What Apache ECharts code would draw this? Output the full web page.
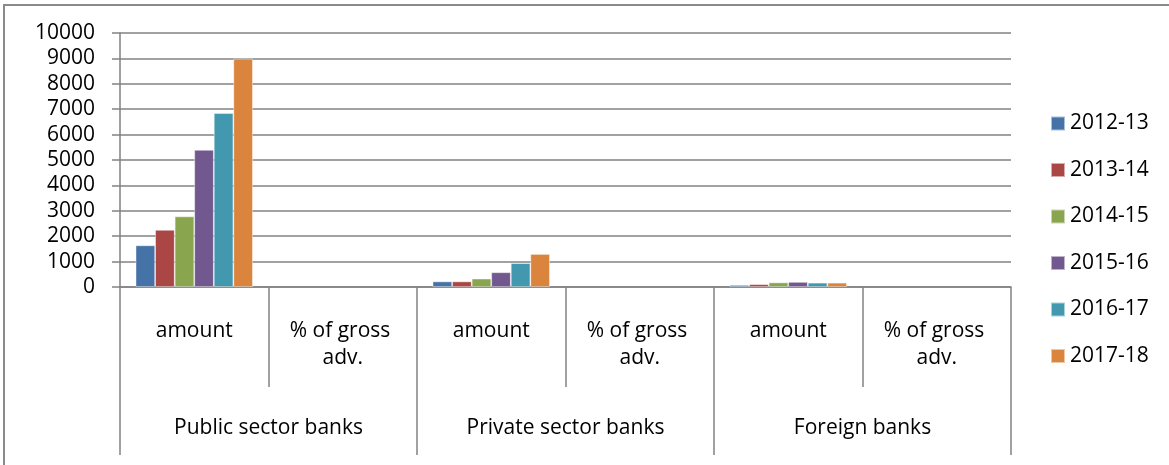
<!DOCTYPE html>
<html>
<head>
<meta charset="utf-8">
<script src="https://cdn.jsdelivr.net/npm/echarts@6/dist/echarts.min.js"></script>
<style>
  html, body { margin: 0; padding: 0; background: #fff; }
  #chart { width: 1169px; height: 465px; }
</style>
</head>
<body>
<div id="chart"></div>
<script>
// Inner category level (one per bar cluster) and outer bank-group level
const categories = ['amount', '% of gross adv.', 'amount', '% of gross adv.', 'amount', '% of gross adv.'];
const groups = ['Public sector banks', 'Private sector banks', 'Foreign banks'];
const years = ['2012-13', '2013-14', '2014-15', '2015-16', '2016-17', '2017-18'];

// Values per year, aligned with categories
const y2012_13 = [1640, null, 220, null, 80, null];
const y2013_14 = [2250, null, 220, null, 110, null];
const y2014_15 = [2780, null, 330, null, 180, null];
const y2015_16 = [5400, null, 580, null, 200, null];
const y2016_17 = [6850, null, 940, null, 170, null];
const y2017_18 = [8990, null, 1300, null, 170, null];

const yTicks = { min: 0, max: 10000, interval: 1000 };

const seriesValues = [y2012_13, y2013_14, y2014_15, y2015_16, y2016_17, y2017_18];
const colors = ['#4572A7', '#AA4643', '#89A54E', '#71588F', '#4198AF', '#DB843D'];

const FONT = 'Open Sans';
const FS = 21;
const GRAY = '#828282';

const chart = echarts.init(document.getElementById('chart'), null, { renderer: 'canvas' });

chart.setOption({
  animation: false,
  color: colors,
  textStyle: { fontFamily: FONT },
  grid: { left: 120, right: 158, top: 33, bottom: 178, containLabel: false },
  legend: {
    orient: 'vertical',
    left: 1050,
    top: 113,
    padding: 0,
    itemWidth: 14,
    itemHeight: 14,
    itemGap: 25.5,
    icon: 'rect',
    textStyle: { fontFamily: FONT, fontSize: FS, color: '#000', lineHeight: 20 },
    data: years
  },
  xAxis: [
    {
      type: 'category',
      data: categories,
      position: 'bottom',
      axisLine: { show: true, lineStyle: { color: GRAY, width: 1.5 } },
      axisTick: { show: true, interval: 0, length: 100, lineStyle: { color: GRAY, width: 1.5 } },
      axisLabel: {
        interval: 0,
        margin: 31,
        color: '#000',
        fontFamily: FONT,
        fontSize: FS,
        lineHeight: 27,
        width: 130,
        overflow: 'break',
        align: 'center'
      },
      splitLine: { show: false }
    },
    {
      type: 'category',
      data: groups,
      position: 'bottom',
      axisLine: { show: false },
      axisTick: { show: true, interval: 0, length: 168, lineStyle: { color: GRAY, width: 1.5 } },
      axisLabel: {
        interval: 0,
        margin: 128,
        color: '#000',
        fontFamily: FONT,
        fontSize: FS,
        lineHeight: 27
      },
      splitLine: { show: false }
    }
  ],
  yAxis: {
    type: 'value',
    min: yTicks.min,
    max: yTicks.max,
    interval: yTicks.interval,
    axisLine: { show: true, lineStyle: { color: GRAY, width: 1.5 } },
    axisTick: { show: true, inside: false, length: 8, lineStyle: { color: GRAY, width: 1.5 } },
    axisLabel: {
      margin: 25,
      color: '#000',
      fontFamily: FONT,
      fontSize: FS,
      formatter: (v) => String(v)
    },
    splitLine: { show: true, lineStyle: { color: GRAY, width: 1.5 } }
  },
  series: years.map((name, i) => ({
    name: name,
    type: 'bar',
    xAxisIndex: 0,
    data: seriesValues[i],
    barGap: '0%',
    barCategoryGap: '21%',
    itemStyle: { borderColor: 'rgba(255,255,255,0.55)', borderWidth: 0.8 }
  })),
  graphic: [
    {
      type: 'rect',
      shape: { x: 4, y: 5, width: 1200, height: 500 },
      style: { fill: 'none', stroke: '#8a8a8a', lineWidth: 2 },
      silent: true,
      z: -1
    }
  ]
});
</script>
</body>
</html>
